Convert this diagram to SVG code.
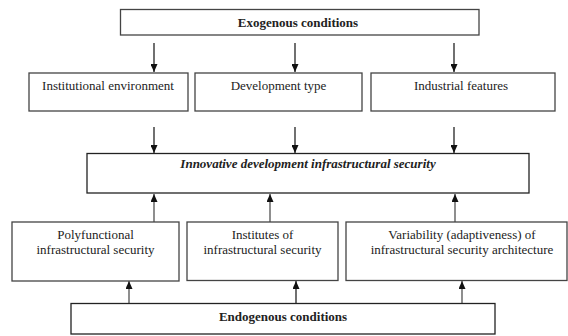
<svg xmlns="http://www.w3.org/2000/svg" width="568" height="336" viewBox="0 0 568 336">
<style>
.box{fill:#fff;stroke:#444;stroke-width:1.3}
.dark{stroke:#222}
.t{font-family:"Liberation Serif","Times New Roman",serif;font-size:13px;fill:#222;text-anchor:middle}
.b{font-weight:bold}
.bi{font-weight:bold;font-style:italic}
.c{stroke:#111;stroke-width:1.2;fill:none;marker-end:url(#ah)}
.g{stroke:#444}
</style>
<defs>
<marker id="ah" markerUnits="userSpaceOnUse" markerWidth="8" markerHeight="7" refX="8" refY="3.5" orient="auto">
<path d="M0,0 L8,3.5 L0,7 z" fill="#111"/>
</marker>
</defs>
<rect width="568" height="336" fill="#fff"/>
<g id="connectors">
<line class="c" x1="154" y1="43" x2="154" y2="72"/>
<line class="c" x1="295" y1="43" x2="295" y2="72"/>
<line class="c" x1="454" y1="43" x2="454" y2="72"/>
<line class="c" x1="154" y1="127" x2="154" y2="153"/>
<line class="c" x1="295" y1="127" x2="295" y2="153"/>
<line class="c" x1="454" y1="127" x2="454" y2="153"/>
<line class="c g" x1="154" y1="222" x2="154" y2="194"/>
<line class="c g" x1="270" y1="222" x2="270" y2="194"/>
<line class="c g" x1="455" y1="222" x2="455" y2="194"/>
<line class="c g" x1="129" y1="304" x2="129" y2="281"/>
<line class="c" x1="296" y1="304" x2="296" y2="281"/>
<line class="c g" x1="462" y1="304" x2="462" y2="281"/>
</g>
<g id="exogenous">
<rect class="box" x="120.5" y="9.5" width="358.5" height="25.5"/>
<text class="t b" x="298" y="26.5">Exogenous conditions</text>
</g>
<g id="institutional">
<rect class="box" x="29" y="73" width="159" height="38"/>
<text class="t" x="108" y="89.5">Institutional environment</text>
</g>
<g id="development">
<rect class="box" x="195" y="73" width="167" height="38"/>
<text class="t" x="278.5" y="89.5">Development type</text>
</g>
<g id="industrial">
<rect class="box" x="371" y="73" width="184" height="38"/>
<text class="t" x="461" y="89.5">Industrial features</text>
</g>
<g id="innovative">
<rect class="box dark" x="87" y="153.5" width="442" height="39.5"/>
<text class="t bi" x="308" y="167.5">Innovative development infrastructural security</text>
</g>
<g id="polyfunctional">
<rect class="box" x="12" y="222" width="167" height="59"/>
<text class="t" x="95.5" y="238.5">Polyfunctional</text>
<text class="t" x="95.5" y="254">infrastructural security</text>
</g>
<g id="institutes">
<rect class="box" x="187" y="222" width="151" height="58.5"/>
<text class="t" x="262.5" y="238.5">Institutes of</text>
<text class="t" x="262.5" y="254">infrastructural security</text>
</g>
<g id="variability">
<rect class="box" x="346" y="222" width="221" height="58.5"/>
<text class="t" x="462" y="238.5">Variability (adaptiveness) of</text>
<text class="t" x="462" y="254">infrastructural security architecture</text>
</g>
<g id="endogenous">
<rect class="box dark" x="71" y="303.5" width="424" height="30.5"/>
<text class="t b" x="283" y="320.5">Endogenous conditions</text>
</g>
</svg>
